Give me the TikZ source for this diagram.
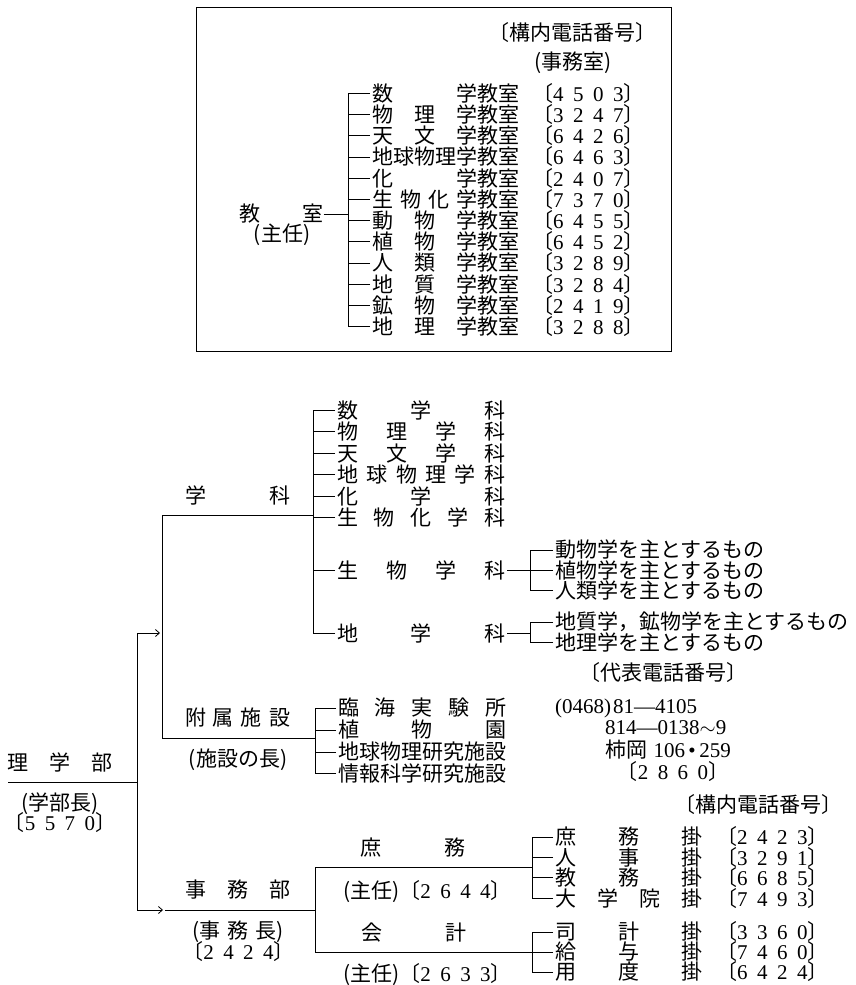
\documentclass[tikz,border=0pt]{standalone}
\usepackage{fontspec}
\setmainfont{Liberation Serif}
\newfontfamily\jp{Noto Sans CJK JP}
\usepackage{tikz}
\usetikzlibrary{arrows.meta}

% spread characters evenly over a width given in em
\newcommand\jw[2]{\makebox[#1em][s]{\expandafter\jwloop#2\relax}}
\def\jwloop#1#2{#1\ifx\relax#2\else\hfill\expandafter\jwloop\expandafter#2\fi}
% bracketed extension number
\newcommand\tel[1]{〔{\rmfamily\expandafter\telsp#1}〕}
\def\telsp#1#2#3#4{#1\hspace{.45em}#2\hspace{.45em}#3\hspace{.45em}#4}

\tikzset{
  lbl/.style={font=\jp\fontsize{21}{21}\selectfont, inner sep=0pt},
  item/.style={lbl, anchor=west, inner xsep=2pt},
  tree/.style={line width=0.8pt},
  arr/.style={tree, -{Straight Barb[length=4pt,width=7pt]}, shorten >=2pt},
}

\begin{document}
\begin{tikzpicture}[x=1pt,y=-1pt]
    \useasboundingbox (0,0) rectangle (856,985);
    % Box: rooms
    \draw[tree] (196,7) rectangle (671,351);
    \node[lbl] (hdrA) at (572,33) {〔構内電話番号〕};
    \node[lbl] (jimu) at (573,63) {(事務室)};
    \coordinate (bA) at (348,0);
    \foreach \nm/\tl [count=\i] in {数/4503, 物\quad 理/3247, 天\quad 文/6426,
        地球物理/6463, 化/2407, 生\hspace{.33em}物\hspace{.33em}化/7370,
        動\quad 物/6455, 植\quad 物/6452, 人\quad 類/3289, 地\quad 質/3284,
        鉱\quad 物/2419, 地\quad 理/3288}{
      \node[item] (rm\i) at (370,72.1+21.2*\i) {\makebox[4em][l]{\nm}学教室};
      \node[item] (rt\i) at (530,72.1+21.2*\i) {\tel{\tl}};
      \draw[tree] (rm\i.west) -- (rm\i.west -| bA);
    }
    \draw[tree] (rm1.west -| bA) -- (rm12.west -| bA);
    \node[lbl] (kyo) at (281.5,214) {教\quad\quad 室};
    \node[lbl] (shuR) at (282,235) {(主任)};
    \draw[tree] (kyo.east) -- (kyo.east -| bA);

    % Faculty
    \node[lbl] (rigaku) at (60.5,762) {理\quad 学\quad 部};
    \node[lbl] (dean) at (60,804) {(学部長)};
    \node[lbl] (deanT) at (60,823) {\tel{5570}};
    \coordinate (rl) at (8,782);
    \coordinate (trTop) at (137,633);
    \coordinate (trBot) at (137,910);
    \draw[tree] (rl) -- (rl -| trTop);
    \draw[tree] (trTop) -- (trBot);

    % Departments and facilities
    \coordinate (gk) at (162,515);
    \coordinate (fz) at (162,738);
    \coordinate (jm) at (165,910);
    \coordinate (bB) at (313,0);
    \coordinate (bC) at (315,0);
    \coordinate (bD) at (315,0);
    \draw[tree] (gk) -- (fz);
    \draw[arr] (trTop) -- (trTop -| gk);
    \draw[arr] (trBot) -- (jm);
    \draw[tree] (gk) -- (gk -| bB);
    \draw[tree] (fz) -- (fz -| bC);
    \draw[tree] (jm) -- (jm -| bD);
    \node[lbl] (gakka) at (237.5,495) {\jw{5}{学科}};
    \node[lbl] (fuzoku) at (237.5,718) {\jw{5}{附属施設}};
    \node[lbl] (chou) at (238,760) {(施設の長)};
    \node[lbl] (jimubu) at (237.5,890) {\jw{5}{事務部}};
    \node[lbl] (jimucho) at (238,932) {(\jw{3.7}{事務長})};
    \node[lbl] (jimuT) at (238.5,952) {\tel{2424}};

    % Departments list
    \foreach \nm [count=\i] in {数学科, 物理学科, 天文学科, 地球物理学科, 化学科, 生物化学科}
      \node[item] (gk\i) at (335,388.5+21.5*\i) {\jw{8}{\nm}};
    \node[item] (gk7) at (335,570) {\jw{8}{生物学科}};
    \node[item] (gk8) at (335,633) {\jw{8}{地学科}};
    \draw[tree] (gk1.west -| bB) -- (gk8.west -| bB);
    \foreach \i in {1,...,8}
      \draw[tree] (gk\i.west) -- (gk\i.west -| bB);
    \coordinate (bE) at (530,0);
    \foreach \nm [count=\i] in {動物学, 植物学, 人類学}
      \node[item] (sb\i) at (553,530+20*\i) {\nm を主とするもの};
    \node[item] (ch1) at (553,622) {地質学，鉱物学を主とするもの};
    \node[item] (ch2) at (553,642) {地理学を主とするもの};
    \draw[tree] (gk7.east) -- (gk7.east -| bE);
    \draw[tree] (gk8.east) -- (gk8.east -| bE);
    \draw[tree] (sb1.west -| bE) -- (sb3.west -| bE);
    \draw[tree] (ch1.west -| bE) -- (ch2.west -| bE);
    \foreach \n in {sb1,sb2,sb3,ch1,ch2}
      \draw[tree] (\n.west) -- (\n.west -| bE);

    % Facilities list
    \node[item] (fz1) at (336,708) {\jw{8}{臨海実験所}};
    \node[item] (fz2) at (336,730) {\jw{8}{植物園}};
    \node[item] (fz3) at (336,752) {地球物理研究施設};
    \node[item] (fz4) at (336,773) {情報科学研究施設};
    \draw[tree] (fz1.west -| bC) -- (fz4.west -| bC);
    \foreach \i in {1,...,4}
      \draw[tree] (fz\i.west) -- (fz\i.west -| bC);
    \node[lbl] (hdrB) at (663,673) {〔代表電話番号〕};
    \node[item] (ph1) at (553,708) {\rmfamily (0468)\hspace{2pt}81---4105};
    \node[item] (ph2) at (603,728) {\rmfamily 814---0138$\sim$9};
    \node[item] (ph3) at (603,750) {柿岡\hspace{.3em}{\rmfamily 106\,\textbullet\,259}};
    \node[lbl] (ph4) at (673,772) {\tel{2860}};

    % Office sections
    \node[lbl] (hdrC) at (758,805) {〔構内電話番号〕};
    \coordinate (sm) at (315,867);
    \coordinate (kk) at (315,952);
    \coordinate (bF) at (532,0);
    \draw[tree] (sm) -- (kk);
    \draw[tree] (sm) -- (sm -| bF);
    \draw[tree] (kk) -- (kk -| bF);
    \node[lbl] (shomu) at (412.5,848) {\jw{5}{庶務}};
    \node[item] (shuA) at (341,892) {(主任)\tel{2644}};
    \node[lbl] (kaikei) at (413.5,933) {\jw{5}{会計}};
    \node[item] (shuB) at (341,975) {(主任)\tel{2633}};
    \foreach \nm/\tl [count=\i] in {庶務/2423, 人事/3291, 教務/6685, 大学院/7493}{
      \node[item] (kg\i) at (553,816.6+20.4*\i) {\jw{7}{\nm 掛}};
      \node[item] (kt\i) at (714,816.6+20.4*\i) {\tel{\tl}};
      \draw[tree] (kg\i.west) -- (kg\i.west -| bF);
    }
    \draw[tree] (kg1.west -| bF) -- (kg4.west -| bF);
    \foreach \nm/\tl [count=\i] in {司計/3360, 給与/7460, 用度/6424}{
      \node[item] (kc\i) at (553,912+20*\i) {\jw{7}{\nm 掛}};
      \node[item] (kd\i) at (714,912+20*\i) {\tel{\tl}};
      \draw[tree] (kc\i.west) -- (kc\i.west -| bF);
    }
    \draw[tree] (kc1.west -| bF) -- (kc3.west -| bF);
\end{tikzpicture}
\end{document}
